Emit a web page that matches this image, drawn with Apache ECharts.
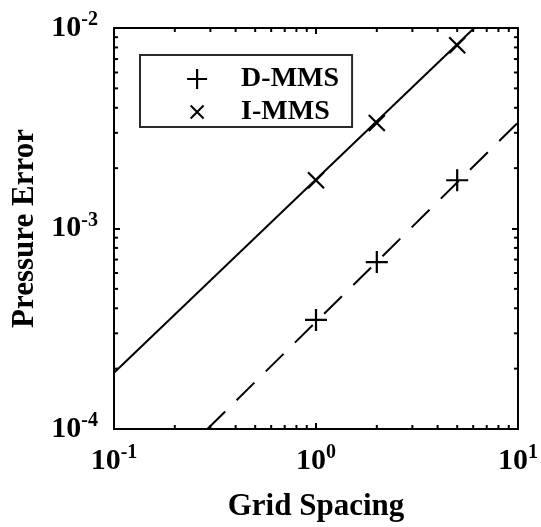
<!DOCTYPE html>
<html>
<head>
<meta charset="utf-8">
<script src="https://cdn.jsdelivr.net/npm/echarts@6/dist/echarts.min.js"></script>
<style>
  html, body { margin: 0; padding: 0; background: #fff; }
  #chart { width: 541px; height: 527px; }
</style>
</head>
<body>
<div id="chart"></div>
<script>
// Convergence data: pressure error against grid spacing
const gridSpacing = [1, 2, 5];
const dmmsError = [3.5e-4, 6.8e-4, 1.74e-3];
const immsError = [1.74e-3, 3.36e-3, 8.2e-3];

// Reference slope lines (end points on the plot frame)
const solidFit = [[0.1, 1.91e-4], [6.07, 1e-2]];
const dashedFit = [[0.29, 1e-4], [10, 3.38e-3]];

// Axis ranges and tick marks
const xRange = [0.1, 10];
const yRange = [1e-4, 1e-2];
const xTickExponents = ['-1', '0', '1'];
const yTickExponents = ['-4', '-3', '-2'];
const xMinorTicks = [0.2, 0.3, 0.4, 0.5, 0.6, 0.7, 0.8, 0.9, 2, 3, 4, 5, 6, 7, 8, 9];
const yMinorTicks = [2e-4, 3e-4, 4e-4, 5e-4, 6e-4, 7e-4, 8e-4, 9e-4,
                     2e-3, 3e-3, 4e-3, 5e-3, 6e-3, 7e-3, 8e-3, 9e-3];

const FONT = 'Liberation Serif';
const PLUS = 'path://M0,-1L0,1M-1,0L1,0';
const CROSS = 'path://M-1,-1L1,1M-1,1L1,-1';
const CROSS_LEGEND = 'path://M-1.55,-1.55M-1,-1L1,1M-1,1L1,-1M1.55,1.55';
const MINOR_LEN = 4;

function expLabel(exps, range) {
  return function (v) {
    const k = Math.round(Math.log10(v) - Math.log10(range[0]));
    return '{b|10}{s|' + exps[k] + '}';
  };
}

const labelRich = {
  b: { fontFamily: FONT, fontWeight: 'bold', fontSize: 30, lineHeight: 30, color: '#000', verticalAlign: 'bottom' },
  s: { fontFamily: FONT, fontWeight: 'bold', fontSize: 20, lineHeight: 20, color: '#000', padding: [0, 0, 16, 0] }
};

function logAxis(range, pos, extra) {
  return Object.assign({
    type: 'log', logBase: 10, min: range[0], max: range[1], position: pos,
    axisLine: { show: true, onZero: false, lineStyle: { color: '#000', width: 2 } },
    axisTick: { show: true, inside: true, length: 6, lineStyle: { color: '#000', width: 2 } },
    splitLine: { show: false },
    minorTick: { show: false },
    axisLabel: { show: false }
  }, extra);
}

const chart = echarts.init(document.getElementById('chart'), null, { renderer: 'canvas' });

const tickStyle = { stroke: '#000', lineWidth: 2 };
const markerStyle = { color: 'transparent', borderColor: '#000', borderWidth: 2.2, opacity: 1 };

chart.setOption({
  animation: false,
  backgroundColor: '#fff',
  grid: { left: 114, top: 28, width: 405, height: 405, containLabel: false },
  xAxis: [
    logAxis(xRange, 'bottom', {
      name: 'Grid Spacing', nameLocation: 'middle', nameGap: 62,
      nameTextStyle: { fontFamily: FONT, fontWeight: 'bold', fontSize: 31, color: '#000' },
      axisLabel: { show: true, margin: 17, formatter: expLabel(xTickExponents, xRange), rich: labelRich }
    }),
    logAxis(xRange, 'top', {})
  ],
  yAxis: [
    logAxis(yRange, 'left', {
      name: 'Pressure Error', nameLocation: 'middle', nameGap: 72, nameRotate: 90,
      nameTextStyle: { fontFamily: FONT, fontWeight: 'bold', fontSize: 31, color: '#000' },
      axisLabel: { show: true, margin: 16, formatter: expLabel(yTickExponents, yRange), rich: labelRich }
    }),
    logAxis(yRange, 'right', {})
  ],
  legend: {
    orient: 'vertical', left: 140, top: 55,
    padding: [10, 13, 1, 46],
    itemGap: 5, itemWidth: 20, itemHeight: 20,
    backgroundColor: '#fff', borderColor: '#2a2a2a', borderWidth: 2, borderRadius: 0,
    selectedMode: false,
    itemStyle: markerStyle,
    textStyle: { fontFamily: FONT, fontWeight: 'bold', fontSize: 28, lineHeight: 28, color: '#000', padding: [0, 0, 0, 29] },
    data: [
      { name: 'D-MMS', icon: PLUS, itemStyle: markerStyle },
      { name: 'I-MMS', icon: CROSS_LEGEND, itemStyle: { color: 'transparent', borderColor: '#000', borderWidth: 2, opacity: 1 } }
    ]
  },
  series: [
    {
      name: 'minor-x', type: 'custom', silent: true, clip: false,
      data: xMinorTicks.map(v => [v, yRange[0]]),
      renderItem: function (params, api) {
        const cs = params.coordSys;
        const px = api.coord([api.value(0), yRange[0]])[0];
        const yb = cs.y + cs.height;
        return { type: 'group', children: [
          { type: 'line', shape: { x1: px, y1: yb, x2: px, y2: yb - MINOR_LEN }, style: tickStyle },
          { type: 'line', shape: { x1: px, y1: cs.y, x2: px, y2: cs.y + MINOR_LEN }, style: tickStyle }
        ] };
      }
    },
    {
      name: 'minor-y', type: 'custom', silent: true, clip: false,
      data: yMinorTicks.map(v => [xRange[0], v]),
      renderItem: function (params, api) {
        const cs = params.coordSys;
        const py = api.coord([xRange[0], api.value(1)])[1];
        const xr = cs.x + cs.width;
        return { type: 'group', children: [
          { type: 'line', shape: { x1: cs.x, y1: py, x2: cs.x + MINOR_LEN, y2: py }, style: tickStyle },
          { type: 'line', shape: { x1: xr, y1: py, x2: xr - MINOR_LEN, y2: py }, style: tickStyle }
        ] };
      }
    },
    {
      name: 'I-MMS fit', type: 'line', data: solidFit, symbol: 'none', silent: true,
      lineStyle: { color: '#000', width: 2, type: 'solid' }
    },
    {
      name: 'D-MMS fit', type: 'line', data: dashedFit, symbol: 'none', silent: true,
      lineStyle: { color: '#000', width: 2, type: [25, 16] }
    },
    {
      name: 'D-MMS', type: 'scatter', symbol: PLUS, symbolSize: 22,
      data: gridSpacing.map((x, i) => [x, dmmsError[i]]),
      itemStyle: markerStyle
    },
    {
      name: 'I-MMS', type: 'scatter', symbol: CROSS, symbolSize: 16,
      data: gridSpacing.map((x, i) => [x, immsError[i]]),
      itemStyle: markerStyle
    }
  ]
});
</script>
</body>
</html>
